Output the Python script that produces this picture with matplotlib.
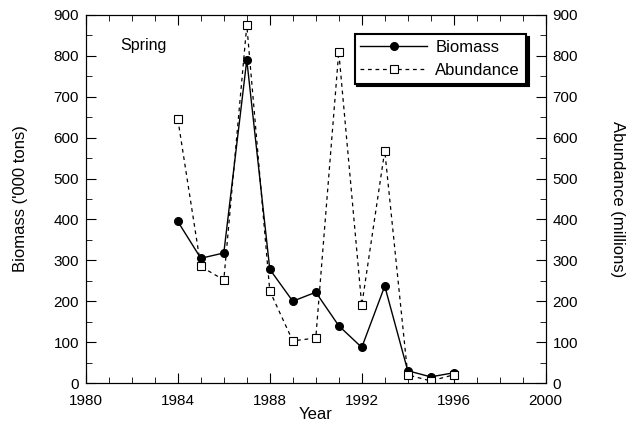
import numpy as np
import matplotlib
matplotlib.use('Agg')
import matplotlib.pyplot as plt
from matplotlib.ticker import MultipleLocator

plt.rcParams['font.family'] = ['Liberation Sans', 'DejaVu Sans']
plt.rcParams['font.size'] = 11

years = [1984, 1985, 1986, 1987, 1988, 1989, 1990, 1991, 1992, 1993, 1994, 1995, 1996]
# Biomass ('000 tons)
biomass = [395, 305, 318, 790, 278, 200, 222, 140, 87, 237, 30, 15, 25]
# Abundance (millions)
abundance = [645, 285, 252, 875, 225, 103, 110, 810, 190, 568, 20, 5, 20]

fig = plt.figure(figsize=(6.36, 4.34), dpi=100)
ax = fig.add_axes([0.135, 0.1175, 0.723, 0.848])

ax.plot(years, biomass, color='k', lw=1, marker='o', ms=5.5, label='Biomass')
ax.plot(years, abundance, color='k', lw=0.9, ls=(0, (3, 3)), marker='s', ms=5.5,
        mfc='white', mec='k', mew=0.8, label='Abundance')

ax.set_xlim(1980, 2000)
ax.set_ylim(0, 900)
ax.xaxis.set_major_locator(MultipleLocator(4))
ax.xaxis.set_minor_locator(MultipleLocator(1))
ax.yaxis.set_major_locator(MultipleLocator(100))
ax.yaxis.set_minor_locator(MultipleLocator(50))
ax.tick_params(which='both', direction='in', top=True, right=False)
ax.tick_params(which='major', length=7)
ax.tick_params(which='minor', length=4)
ax.tick_params(axis='x', pad=8)
ax.tick_params(axis='y', pad=5)
ax.set_xlabel('Year', fontsize=12, labelpad=-1)
ax.set_ylabel("Biomass ('000 tons)", fontsize=12, labelpad=18)

ax2 = ax.twinx()
ax2.set_ylim(0, 900)
ax2.yaxis.set_major_locator(MultipleLocator(100))
ax2.yaxis.set_minor_locator(MultipleLocator(50))
ax2.tick_params(which='both', direction='in', pad=5)
ax2.tick_params(which='major', length=7)
ax2.tick_params(which='minor', length=4)
ax2.set_ylabel('Abundance (millions)', fontsize=12, rotation=270, labelpad=34)

ax.text(0.075, 0.905, 'Spring', transform=ax.transAxes, fontsize=11.5)

leg = ax.legend(loc='upper right', bbox_to_anchor=(0.975, 0.97), fancybox=False,
                shadow={'color': 'k', 'alpha': 1}, edgecolor='k', framealpha=1,
                handlelength=4.0, handletextpad=0.5, borderpad=0.35,
                labelspacing=0.45, fontsize=12)
leg.get_frame().set_linewidth(1.5)

fig.savefig('out.png', dpi=100)
